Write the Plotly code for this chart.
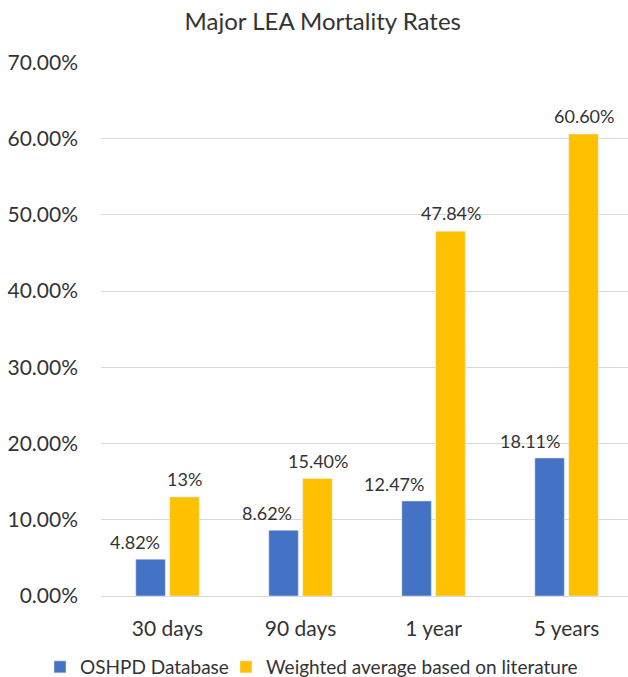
import plotly.graph_objects as go

categories = ["30 days", "90 days", "1 year", "5 years"]
oshpd = [0.0482, 0.0862, 0.1247, 0.1811]
weighted = [0.13, 0.1540, 0.4784, 0.6060]
oshpd_labels = ["4.82%", "8.62%", "12.47%", "18.11%"]
weighted_labels = ["13%", "15.40%", "47.84%", "60.60%"]
series_names = ["OSHPD Database", "Weighted average based on literature"]
y_ticks = [0, 0.1, 0.2, 0.3, 0.4, 0.5, 0.6, 0.7]

FONT = "Lato"
TXT = "#333333"
BLUE = "#4472C4"
GOLD = "#FFC000"

fig = go.Figure()
fig.add_trace(go.Bar(x=categories, y=oshpd, name=series_names[0], marker_color=BLUE,
                     legend="legend"))
fig.add_trace(go.Bar(x=categories, y=weighted, name=series_names[1], marker_color=GOLD,
                     legend="legend2"))

# data labels
blue_xshift = [-33, -34, -40, -37]
for c, v, t, dx in zip(categories, oshpd, oshpd_labels, blue_xshift):
    fig.add_annotation(x=c, y=v, text=t, showarrow=False, xshift=dx, yshift=17,
                       yanchor="middle", font=dict(family=FONT, size=18, color=TXT))
for c, v, t in zip(categories, weighted, weighted_labels):
    fig.add_annotation(x=c, y=v, text=t, showarrow=False, xshift=17, yshift=18,
                       yanchor="middle", font=dict(family=FONT, size=18, color=TXT))

legend_common = dict(orientation="h", xref="container", yref="container",
                     xanchor="left", y=10 / 677, yanchor="middle",
                     font=dict(family=FONT, size=19, color=TXT),
                     itemwidth=30, bgcolor="rgba(0,0,0,0)")

fig.update_layout(
    width=628, height=677,
    margin=dict(l=101, r=0, t=62, b=81, autoexpand=False),
    paper_bgcolor="white", plot_bgcolor="white",
    barmode="group", bargap=0.49, bargroupgap=0.13,
    font=dict(family=FONT, color=TXT),
    title=dict(text="Major LEA Mortality Rates", x=0.514, xanchor="center",
               y=1 - 22 / 677, yanchor="middle",
               font=dict(family=FONT, size=24, color=TXT)),
    showlegend=True,
    legend=dict(x=40 / 628, **legend_common),
    legend2=dict(x=226 / 628, **legend_common),
)
fig.update_xaxes(range=[-0.5, 3.462], showgrid=False, showline=False,
                 tickfont=dict(family=FONT, size=21, color=TXT),
                 ticks="", ticklabelstandoff=18)
fig.update_yaxes(range=[0, 0.7006], tickvals=y_ticks, tickformat=".2%",
                 showgrid=True, gridcolor="#D9D9D9", gridwidth=1,
                 zeroline=True, zerolinecolor="#D9D9D9", zerolinewidth=1,
                 showline=False, ticks="",
                 tickfont=dict(family=FONT, size=21, color=TXT),
                 ticklabelstandoff=22)

fig.write_html("out.html")
